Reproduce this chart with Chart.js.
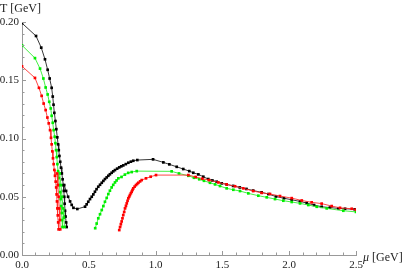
<!DOCTYPE html>
<html>
<head>
<meta charset="utf-8">
<script src="https://cdn.jsdelivr.net/npm/chart.js@4.4.1/dist/chart.umd.min.js"></script>
<style>
  html, body { margin: 0; padding: 0; background: #fff; }
  #chartCanvas { display: block; }
</style>
</head>
<body>
<canvas id="chartCanvas" width="407" height="271"></canvas>
<script>
// tick labels
var muTicks = [0.0, 0.5, 1.0, 1.5, 2.0, 2.5];
var tTicks = [0.00, 0.05, 0.10, 0.15, 0.20];

// black curve [mu, T]
var blackLeft = [[0,0.199],[0.105,0.188],[0.144,0.178],[0.172,0.168],[0.192,0.159],[0.207,0.1515],[0.222,0.1435],
  [0.230,0.136],[0.236,0.129],[0.242,0.122],[0.250,0.115],[0.257,0.108],[0.264,0.101],[0.270,0.095],[0.275,0.090],
  [0.280,0.085],[0.286,0.080],[0.292,0.075],[0.298,0.070],[0.304,0.065],[0.309,0.060],[0.313,0.055],[0.316,0.050],
  [0.319,0.044],[0.322,0.038],[0.326,0.033],[0.330,0.028],[0.334,0.024]];
var blackRight = [[0.316,0.060],[0.33,0.055],[0.345,0.050],[0.36,0.046],[0.372,0.043],[0.385,0.0405],[0.414,0.0395],
  [0.472,0.0415],[0.484,0.0435],[0.496,0.0457],[0.509,0.048],[0.522,0.050],[0.534,0.052],[0.546,0.0543],[0.558,0.0565],
  [0.571,0.0586],[0.584,0.0603],[0.597,0.062],[0.609,0.0636],[0.621,0.0652],[0.634,0.0666],[0.646,0.068],[0.658,0.0693],
  [0.671,0.0706],[0.683,0.0718],[0.696,0.0729],[0.712,0.0741],[0.728,0.0752],[0.743,0.0761],[0.758,0.0769],[0.777,0.078],
  [0.796,0.0792],[0.815,0.0801],[0.833,0.0809],[0.863,0.0815],[0.981,0.0821],[1.058,0.0795],[1.103,0.0778],[1.158,0.0757],
  [1.207,0.0738],[1.252,0.072],[1.282,0.0706],[1.320,0.0692],[1.357,0.0672],[1.394,0.0652],[1.425,0.064],[1.457,0.0629],
  [1.495,0.0615],[1.532,0.0606],[1.58,0.0593],[1.63,0.058],[1.68,0.0567],[1.73,0.0553],[1.794,0.0538],[1.844,0.0523],
  [1.901,0.0502],[1.961,0.0487],[2.019,0.0474],[2.081,0.046],[2.131,0.0446],[2.186,0.0429],[2.243,0.0414],[2.305,0.0407],
  [2.368,0.040],[2.418,0.0397],[2.49,0.0392]];

// green curve
var greenLeft = [[0,0.180],[0.097,0.169],[0.135,0.160],[0.160,0.1515],[0.177,0.1438],[0.192,0.1378],[0.204,0.1315],
  [0.215,0.1258],[0.222,0.1195],[0.230,0.1135],[0.237,0.1072],[0.245,0.1015],[0.250,0.096],[0.255,0.090],[0.260,0.084],
  [0.265,0.078],[0.270,0.072],[0.275,0.066],[0.280,0.060],[0.285,0.054],[0.289,0.048],[0.293,0.042],[0.297,0.036],
  [0.300,0.030],[0.303,0.024]];
var greenInner = [[0.282,0.07],[0.292,0.06],[0.300,0.05],[0.307,0.04],[0.313,0.032],[0.318,0.024]];
var greenRight = [[0.548,0.023],[0.559,0.027],[0.571,0.0315],[0.584,0.035],[0.597,0.0386],[0.609,0.042],[0.621,0.0457],
  [0.634,0.049],[0.646,0.0523],[0.658,0.0552],[0.671,0.058],[0.683,0.0602],[0.696,0.0623],[0.708,0.064],[0.721,0.0658],
  [0.745,0.067],[0.770,0.069],[0.795,0.0705],[0.821,0.0712],[0.859,0.072],[1.12,0.0718],[1.175,0.070],[1.245,0.068],
  [1.287,0.0663],[1.327,0.065],[1.362,0.0637],[1.407,0.062],[1.445,0.0606],[1.482,0.0592],[1.532,0.0572],[1.582,0.056],
  [1.632,0.0549],[1.694,0.0529],[1.769,0.0509],[1.832,0.0495],[1.894,0.048],[1.956,0.0466],[2.019,0.0455],[2.081,0.0443],
  [2.143,0.0429],[2.206,0.0414],[2.281,0.040],[2.405,0.038],[2.5,0.037]];

// red curve
var redLeft = [[0,0.162],[0.097,0.152],[0.127,0.1435],[0.147,0.1366],[0.162,0.130],[0.177,0.1244],[0.190,0.118],
  [0.200,0.113],[0.210,0.1072],[0.217,0.1006],[0.222,0.095],[0.227,0.089],[0.232,0.083],[0.237,0.078],[0.242,0.073],
  [0.247,0.068],[0.252,0.063],[0.256,0.058],[0.259,0.052],[0.262,0.046],[0.265,0.040],[0.268,0.034],[0.271,0.028],
  [0.274,0.022]];
var redInner = [[0.262,0.07],[0.268,0.06],[0.274,0.05],[0.279,0.04],[0.283,0.03],[0.286,0.022]];
var redRight = [[0.728,0.0214],[0.734,0.024],[0.740,0.0265],[0.746,0.0288],[0.752,0.0315],[0.758,0.0343],[0.765,0.037],
  [0.771,0.040],[0.778,0.0422],[0.784,0.0443],[0.790,0.0465],[0.796,0.0486],[0.802,0.050],[0.808,0.0515],[0.815,0.053],
  [0.821,0.0543],[0.827,0.0558],[0.833,0.0572],[0.843,0.0587],[0.853,0.060],[0.862,0.061],[0.871,0.062],[0.884,0.0632],
  [0.896,0.0643],[0.928,0.0658],[0.963,0.0672],[1.003,0.0686],[1.245,0.0686],[1.30,0.067],[1.35,0.0655],[1.40,0.0643],
  [1.47,0.0623],[1.532,0.0606],[1.595,0.059],[1.657,0.0572],[1.731,0.0549],[1.794,0.0533],[1.856,0.0524],[1.931,0.0506],
  [2.019,0.0488],[2.094,0.0468],[2.168,0.0452],[2.243,0.0441],[2.318,0.042],[2.38,0.0405],[2.468,0.0397],[2.5,0.039]];

var SERIF = '"Liberation Serif", "Times New Roman", serif';

function toPoints(arr) {
    var pts = [];
    for (var i = 0; i < arr.length; i++) {
        pts.push({ x: arr[i][0], y: arr[i][1] });
    }
    return pts;
}

function branch(arr, lineColor, markColor) {
    return {
        data: toPoints(arr),
        showLine: true,
        borderColor: lineColor,
        borderWidth: 0.9,
        backgroundColor: markColor,
        pointBackgroundColor: markColor,
        pointBorderWidth: 0,
        pointStyle: 'rect',
        pointRadius: 1.9,
        tension: 0
    };
}

//Draws inward tick marks and the two axis titles
var axisExtras = {
    id: 'axisExtras',
    afterDraw: function (chart) {
        var ctx = chart.ctx;
        var xs = chart.scales.x, ys = chart.scales.y;
        var x0 = xs.getPixelForValue(0), y0 = ys.getPixelForValue(0);
        ctx.save();
        ctx.strokeStyle = '#999';
        ctx.lineWidth = 1;
        ctx.beginPath();
        for (var i = 0; i <= 25; i++) {
            var px = Math.round(xs.getPixelForValue(i / 10)) + 0.5;
            var len = (i % 5 === 0) ? 4 : 2.5;
            ctx.moveTo(px, y0);
            ctx.lineTo(px, y0 - len);
        }
        for (var j = 0; j <= 20; j++) {
            var py = Math.round(ys.getPixelForValue(j / 100)) + 0.5;
            var l2 = (j % 5 === 0) ? 4 : 2.5;
            ctx.moveTo(x0, py);
            ctx.lineTo(x0 + l2, py);
        }
        ctx.stroke();

        ctx.fillStyle = '#222';
        ctx.textBaseline = 'alphabetic';
        ctx.textAlign = 'left';
        ctx.font = '12px ' + SERIF;
        ctx.fillText('T [GeV]', 0, ys.top - 10);
        var mx = xs.right + 7, my = y0 + 6;
        ctx.font = 'italic 12px ' + SERIF;
        ctx.fillText('\u03bc', mx, my);
        var w = ctx.measureText('\u03bc').width;
        ctx.font = '12px ' + SERIF;
        ctx.fillText(' [GeV]', mx + w, my);
        ctx.restore();
    }
};

var chart = new Chart(document.getElementById('chartCanvas'), {
    type: 'scatter',
    data: {
        datasets: [
            branch(redLeft, '#ff3030', '#ff0000'),
            branch(redInner, '#ff3030', '#ff0000'),
            branch(redRight, '#ff3030', '#ff0000'),
            branch(greenLeft, '#30ee30', '#00ee00'),
            branch(greenInner, '#30ee30', '#00ee00'),
            branch(greenRight, '#30ee30', '#00ee00'),
            branch(blackLeft, '#222', '#000'),
            branch(blackRight, '#222', '#000')
        ]
    },
    options: {
        responsive: false,
        animation: false,
        layout: { padding: { left: 0, top: 22, right: 51, bottom: 0 } },
        plugins: {
            legend: { display: false },
            tooltip: { enabled: false }
        },
        scales: {
            x: {
                type: 'linear',
                min: 0,
                max: 2.5,
                afterFit: function (s) { s.height = 16; },
                afterBuildTicks: function (s) { s.ticks = muTicks.map(function (v) { return { value: v }; }); },
                grid: { display: false, drawTicks: false },
                border: { display: true, color: '#999', width: 1 },
                ticks: {
                    padding: 4,
                    color: '#222',
                    font: { family: SERIF, size: 11 },
                    maxRotation: 0,
                    autoSkip: false,
                    callback: function (v) { return Number(v).toFixed(1); }
                }
            },
            y: {
                type: 'linear',
                min: 0,
                max: 0.2,
                afterFit: function (s) { s.width = 22; },
                afterBuildTicks: function (s) { s.ticks = tTicks.map(function (v) { return { value: v }; }); },
                grid: { display: false, drawTicks: false },
                border: { display: true, color: '#999', width: 1 },
                ticks: {
                    padding: 3,
                    color: '#222',
                    font: { family: SERIF, size: 11 },
                    autoSkip: false,
                    callback: function (v) { return Number(v).toFixed(2); }
                }
            }
        }
    },
    plugins: [axisExtras]
});
</script>
</body>
</html>
